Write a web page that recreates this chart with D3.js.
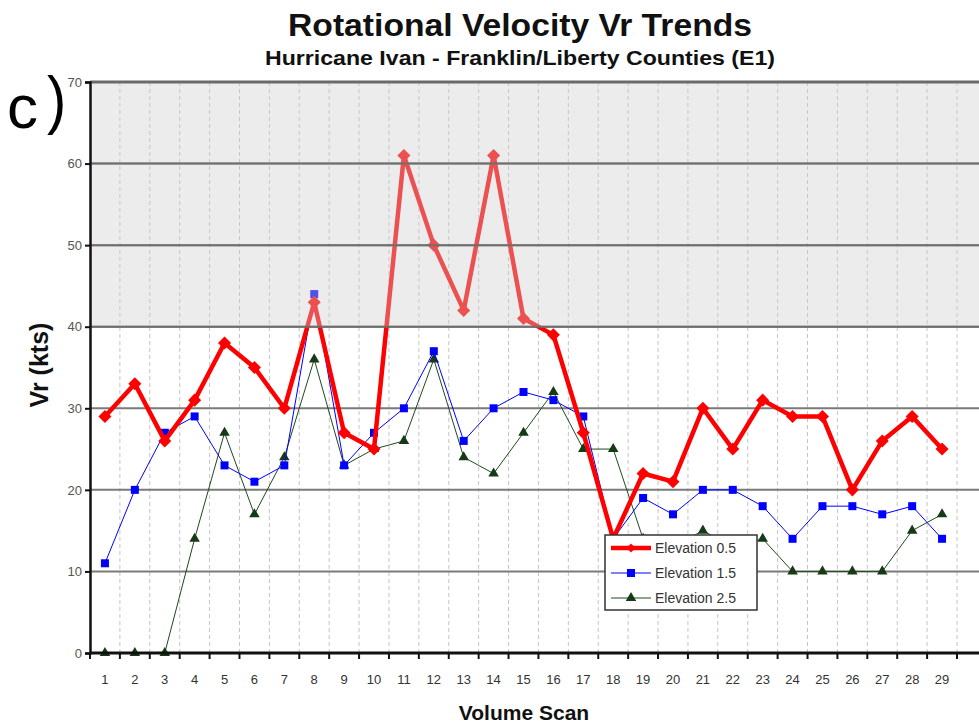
<!DOCTYPE html>
<html>
<head>
<meta charset="utf-8">
<script src="https://cdn.jsdelivr.net/npm/d3@7"></script>
<style>
  body { margin: 0; background: #fff; }
  svg { display: block; }
</style>
</head>
<body>
<div id="chart"></div>
<script>
// Volume scans 1..29
const scans = d3.range(1, 30);

// Vr (kts) by elevation angle
const elev05 = [29, 33, 26, 31, 38, 35, 30, 43, 27, 25, 61, 50, 42, 61, 41, 39, 27, 14, 22, 21, 30, 25, 31, 29, 29, 20, 26, 29, 25];
const elev15 = [11, 20, 27, 29, 23, 21, 23, 44, 23, 27, 30, 37, 26, 30, 32, 31, 29, 14, 19, 17, 20, 20, 18, 14, 18, 18, 17, 18, 14];
const elev25 = [0, 0, 0, 14, 27, 17, 24, 36, 23, 25, 26, 36, 24, 22, 27, 32, 25, 25, 14, 13, 15, 13, 14, 10, 10, 10, 10, 15, 17];

const yTicks = [0, 10, 20, 30, 40, 50, 60, 70];

const series = [
  { name: "Elevation 0.5", values: elev05, color: "#ff0000", width: 4.5, marker: "diamond", size: 85, mcolor: "#ff0000" },
  { name: "Elevation 1.5", values: elev15, color: "#0000ff", width: 1, marker: "square", size: 64, mcolor: "#0000ff" },
  { name: "Elevation 2.5", values: elev25, color: "#1d4a1d", width: 1, marker: "triangle", size: 48, mcolor: "#163a16" }
];

const width = 979, height = 727;
const plot = { left: 90, top: 82, right: 979, bottom: 653 };

const svg = d3.select("#chart").append("svg")
  .attr("width", width)
  .attr("height", height);

const x = d3.scaleBand()
  .domain(scans)
  .range([plot.left, 957]);

const y = d3.scaleLinear()
  .domain([0, 70])
  .range([plot.bottom, plot.top]);

const cx = (i) => x(scans[i]) + x.bandwidth() / 2;

// Titles (narrow bold look)
svg.append("text")
  .attr("x", 288).attr("y", 36)
  .attr("textLength", 464)
  .attr("lengthAdjust", "spacingAndGlyphs")
  .style("font-family", "'Liberation Sans Narrow', 'Arial Narrow', Arial, sans-serif")
  .style("font-weight", "bold")
  .style("font-size", "31px")
  .style("fill", "#111")
  .text("Rotational Velocity Vr Trends");

svg.append("text")
  .attr("x", 265).attr("y", 65)
  .attr("textLength", 510)
  .attr("lengthAdjust", "spacingAndGlyphs")
  .style("font-family", "'Liberation Sans Narrow', 'Arial Narrow', Arial, sans-serif")
  .style("font-weight", "bold")
  .style("font-size", "20px")
  .style("fill", "#111")
  .text("Hurricane Ivan - Franklin/Liberty Counties (E1)");

// panel label "c)"
svg.append("text")
  .attr("x", 7).attr("y", 128)
  .style("font-family", "Arial, 'Liberation Sans', sans-serif")
  .style("font-size", "62px")
  .style("fill", "#000")
  .text("c");
svg.append("text")
  .attr("x", 47).attr("y", 122)
  .style("font-family", "Arial, 'Liberation Sans', sans-serif")
  .style("font-size", "58px")
  .attr("transform", "translate(47,122) scale(1,1.12) translate(-47,-122)")
  .style("fill", "#000")
  .text(")");

// vertical dashed grid at band boundaries
const bounds = scans.map(d => x(d)).concat([x(29) + x.bandwidth()]);
svg.append("g")
  .selectAll("line")
  .data(bounds.slice(1))
  .join("line")
  .attr("x1", d => d).attr("x2", d => d)
  .attr("y1", plot.top).attr("y2", plot.bottom)
  .attr("stroke", "#c4c4c4")
  .attr("stroke-width", 1)
  .attr("stroke-dasharray", "4,3");

// horizontal grid
svg.append("g")
  .selectAll("line")
  .data(yTicks.slice(1))
  .join("line")
  .attr("x1", plot.left).attr("x2", plot.right)
  .attr("y1", d => y(d)).attr("y2", d => y(d))
  .attr("stroke", "#7a7a7a")
  .attr("stroke-width", 2);

// series
const markerType = { diamond: d3.symbolSquare, square: d3.symbolSquare, triangle: d3.symbolTriangle };
const markerRot = { diamond: 45, square: 0, triangle: 0 };

series.slice().reverse().forEach(s => {
  const line = d3.line()
    .x((d, i) => cx(i))
    .y(d => y(d));
  svg.append("path")
    .datum(s.values)
    .attr("fill", "none")
    .attr("stroke", s.color)
    .attr("stroke-width", s.width)
    .attr("stroke-linejoin", "round")
    .attr("d", line);
  svg.append("g")
    .selectAll("path")
    .data(s.values)
    .join("path")
    .attr("transform", (d, i) => `translate(${cx(i)},${y(d)}) rotate(${markerRot[s.marker]})`)
    .attr("d", d3.symbol().type(markerType[s.marker]).size(s.size))
    .attr("fill", s.mcolor);
});

// shaded band 40-70 drawn over the data
svg.append("rect")
  .attr("x", plot.left).attr("y", y(70))
  .attr("width", plot.right - plot.left)
  .attr("height", y(40) - y(70))
  .attr("fill", "#cdcdcd")
  .attr("opacity", 0.39);

// gridlines in shaded band on top
svg.append("g")
  .selectAll("line")
  .data([40, 50, 60])
  .join("line")
  .attr("x1", plot.left).attr("x2", plot.right)
  .attr("y1", d => y(d)).attr("y2", d => y(d))
  .attr("stroke", "#6e6e6e")
  .attr("stroke-width", 2);
svg.append("line")
  .attr("x1", plot.left).attr("x2", plot.right)
  .attr("y1", y(70)).attr("y2", y(70))
  .attr("stroke", "#6a6a6a")
  .attr("stroke-width", 3);

// y axis
const yAxis = svg.append("g")
  .attr("transform", `translate(${plot.left},0)`)
  .call(d3.axisLeft(y).tickValues(yTicks).tickSize(5).tickPadding(3));
yAxis.select(".domain").attr("stroke", "#111").attr("stroke-width", 2.5);
yAxis.selectAll(".tick line").attr("stroke", "#111").attr("stroke-width", 2);
yAxis.selectAll(".tick text")
  .style("font-family", "Arial, 'Liberation Sans', sans-serif")
  .style("font-size", "13px")
  .style("fill", "#555");

// x axis with ticks at band boundaries
const xg = svg.append("g").attr("transform", `translate(0,${plot.bottom})`);
xg.append("line")
  .attr("x1", plot.left).attr("x2", plot.right)
  .attr("y1", 0).attr("y2", 0)
  .attr("stroke", "#111").attr("stroke-width", 3);
xg.selectAll(".bt")
  .data(bounds)
  .join("line")
  .attr("class", "bt")
  .attr("x1", d => d).attr("x2", d => d)
  .attr("y1", 0).attr("y2", 6)
  .attr("stroke", "#111").attr("stroke-width", 2);
xg.selectAll(".xl")
  .data(scans)
  .join("text")
  .attr("class", "xl")
  .attr("x", d => x(d) + x.bandwidth() / 2)
  .attr("y", 31)
  .attr("text-anchor", "middle")
  .style("font-family", "Arial, 'Liberation Sans', sans-serif")
  .style("font-size", "13px")
  .style("fill", "#333")
  .text(d => d);

// axis titles
svg.append("text")
  .attr("transform", "translate(48,365) rotate(-90)")
  .attr("text-anchor", "middle")
  .style("font-family", "Arial, 'Liberation Sans', sans-serif")
  .style("font-weight", "bold")
  .style("font-size", "25px")
  .style("fill", "#111")
  .text("Vr (kts)");

svg.append("text")
  .attr("x", 524).attr("y", 720)
  .attr("text-anchor", "middle")
  .style("font-family", "Arial, 'Liberation Sans', sans-serif")
  .style("font-weight", "bold")
  .style("font-size", "21px")
  .style("fill", "#111")
  .text("Volume Scan");

// legend
const lg = svg.append("g").attr("transform", "translate(605,535)");
lg.append("rect")
  .attr("width", 152).attr("height", 75)
  .attr("fill", "#fff")
  .attr("stroke", "#333").attr("stroke-width", 1.5);
series.forEach((s, i) => {
  const row = lg.append("g").attr("transform", `translate(0,${13 + i * 25})`);
  row.append("line")
    .attr("x1", 6).attr("x2", 46)
    .attr("stroke", s.color)
    .attr("stroke-width", s.width);
  row.append("path")
    .attr("transform", `translate(26,0) rotate(${markerRot[s.marker]})`)
    .attr("d", d3.symbol().type(markerType[s.marker]).size(s.marker === "diamond" ? 40 : s.size))
    .attr("fill", s.mcolor);
  row.append("text")
    .attr("x", 50).attr("y", 5)
    .style("font-family", "Arial, 'Liberation Sans', sans-serif")
    .style("font-size", "14px")
    .style("fill", "#333")
    .text(s.name);
});
</script>
</body>
</html>
